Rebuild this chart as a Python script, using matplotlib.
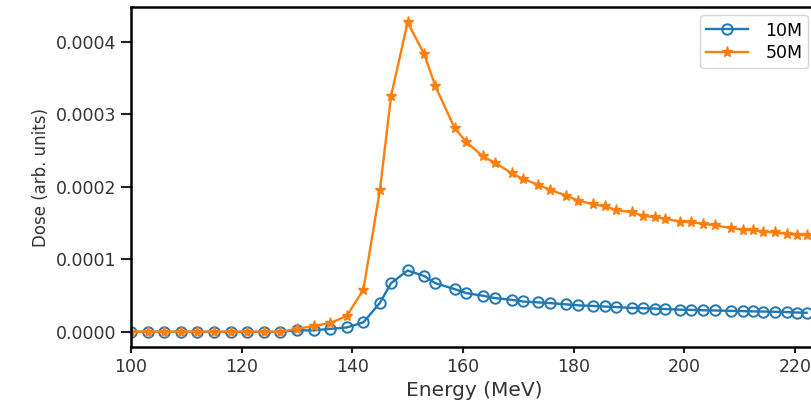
import matplotlib
matplotlib.use("Agg")
from matplotlib import pyplot as plt

energy = [100, 103, 106, 109, 112, 115, 118, 121, 124, 127, 130, 133, 136, 139, 142, 145,
          147, 150, 153, 155, 158.5, 160.6, 163.6, 165.8, 168.8, 170.8, 173.6, 175.7,
          178.7, 180.8, 183.5, 185.6, 187.7, 190.5, 192.6, 194.7, 196.5, 199.2, 201.3,
          203.4, 205.5, 208.5, 210.6, 212.4, 214.2, 216.4, 218.5, 220.3, 222.1]

dose_10m = [0, 0, 0, 0, 0, 0, 0, 0, 0, 0, 0.000002, 0.000002, 0.000004, 0.000006, 0.000013, 0.00004,
            0.000067, 0.0000846, 0.000077, 0.000067, 0.0000589, 0.0000534, 0.0000497, 0.0000465,
            0.0000441, 0.0000418, 0.0000405, 0.0000396, 0.0000378, 0.0000365, 0.0000357, 0.0000349,
            0.0000341, 0.0000330, 0.0000325, 0.0000320, 0.0000315, 0.0000305, 0.0000302, 0.0000297,
            0.0000294, 0.0000289, 0.0000285, 0.0000282, 0.0000279, 0.0000276, 0.0000272, 0.0000266,
            0.0000262]

dose_50m = [0, 0, 0, 0, 0, 0, 0, 0, 0, 0, 0.000004, 0.000008, 0.000012, 0.000022, 0.000058, 0.000196,
            0.000325, 0.000427, 0.000383, 0.000339, 0.000281, 0.000262, 0.000242, 0.000233,
            0.000219, 0.000211, 0.000203, 0.000196, 0.000188, 0.000181, 0.000176, 0.000173,
            0.000168, 0.000165, 0.000160, 0.000158, 0.000156, 0.000152, 0.000151, 0.000149,
            0.000147, 0.000143, 0.000141, 0.000140, 0.000138, 0.000137, 0.000135, 0.000134,
            0.000133]

fig = plt.figure(figsize=(8.11, 4.01), dpi=100)
ax = fig.add_axes([0.1615, 0.134, 0.846, 0.849])

ax.plot(energy, dose_10m, marker='o', mfc='none', markersize=7.5, mew=1.4,
        color='#1f77b4', linewidth=1.7, label='10M')
ax.plot(energy, dose_50m, marker='*', markersize=8, color='#ff7f0e',
        linewidth=1.7, label='50M')

ax.set_xlim(100, 224)
ax.set_xticks([100, 120, 140, 160, 180, 200, 220])
ax.set_yticks([0, 0.0001, 0.0002, 0.0003, 0.0004])
ax.set_yticklabels(['0.0000', '0.0001', '0.0002', '0.0003', '0.0004'])
ax.tick_params(axis='both', labelsize=12.5, colors='#222222', labelcolor='#333333')
ax.tick_params(axis='y', length=7, width=1.5)
ax.tick_params(axis='x', length=4, width=1.5)
for side in ax.spines.values():
    side.set_linewidth(1.8)

ax.set_xlabel('Energy (MeV)', fontsize=14.5, color='#333333')
ax.set_ylabel('Dose (arb. units)', fontsize=12, color='#333333')

ax.legend(loc='upper right', fontsize=12.5, handlelength=2.4, labelspacing=0.25,
          borderpad=0.35, handletextpad=1.0)

fig.savefig('out.png', dpi=100)
